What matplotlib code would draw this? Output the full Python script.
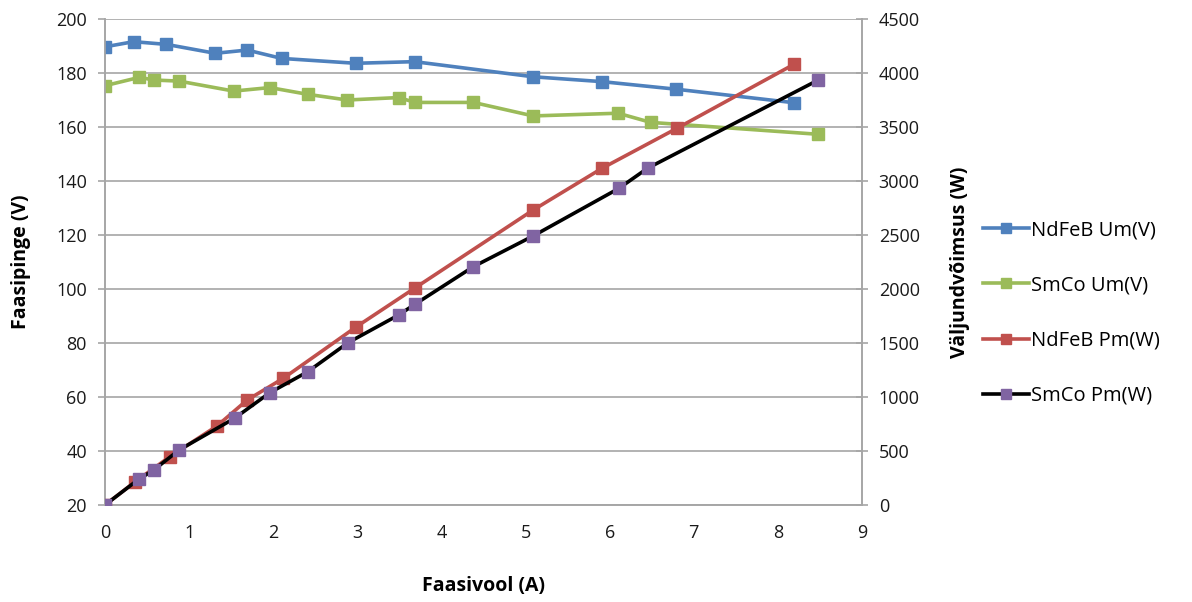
import matplotlib.pyplot as plt
from matplotlib.lines import Line2D

plt.rcParams['font.family'] = ['Open Sans', 'DejaVu Sans']

# phase current (A) and values
ndfeb_u_x = [0, 0.34, 0.73, 1.31, 1.69, 2.10, 2.98, 3.68, 5.09, 5.91, 6.79, 8.19]
ndfeb_u = [189.7, 191.6, 190.6, 187.3, 188.5, 185.4, 183.6, 184.2, 178.6, 176.8, 174.0, 169.0]

smco_u_x = [0, 0.41, 0.58, 0.88, 1.53, 1.96, 2.41, 2.88, 3.49, 3.69, 4.38, 5.09, 6.10, 6.49, 8.48]
smco_u = [175.3, 178.4, 177.4, 177.0, 173.3, 174.6, 172.1, 170.0, 170.9, 169.1, 169.1, 164.1, 165.1, 161.7, 157.3]

ndfeb_p_x = [0, 0.36, 0.77, 1.33, 1.69, 2.12, 2.99, 3.69, 5.09, 5.91, 6.80, 8.19]
ndfeb_p = [0, 216, 447, 731, 972, 1173, 1651, 2012, 2731, 3118, 3488, 4080]

smco_p_x = [0, 0.40, 0.58, 0.88, 1.54, 1.96, 2.41, 2.89, 3.49, 3.69, 4.38, 5.09, 6.11, 6.45, 8.48]
smco_p = [0, 238, 324, 509, 803, 1040, 1234, 1503, 1759, 1861, 2207, 2491, 2932, 3118, 3935]

blue = '#4F81BD'
green = '#9BBB59'
red = '#C0504D'
purple = '#8064A2'
grid_c = '#A6A6A6'

fig = plt.figure(figsize=(11.92, 6.02), dpi=100)
ax = fig.add_axes([105 / 1192, 97 / 602, 757 / 1192, 486 / 602])
ax2 = ax.twinx()

lw = 2.6
ms = 8.5
ax.plot(ndfeb_u_x, ndfeb_u, color=blue, lw=lw, marker='s', ms=ms, mec=blue, zorder=3)
ax.plot(smco_u_x, smco_u, color=green, lw=lw, marker='s', ms=ms, mec=green, zorder=3)
ax2.plot(ndfeb_p_x, ndfeb_p, color=red, lw=lw, marker='s', ms=ms, mec=red, zorder=3)
ax2.plot(smco_p_x, smco_p, color='black', lw=lw, marker='s', ms=ms, mfc=purple, mec=purple, zorder=4)

ax.set_xlim(0, 9)
ax.set_ylim(20, 200)
ax.set_yticks(range(20, 201, 20))
ax.set_xticks(range(0, 10))
ax2.set_ylim(0, 4500)
ax2.set_yticks(range(0, 4501, 500))

ax.grid(axis='y', color=grid_c, lw=1.2)
ax.set_axisbelow(True)
for a in (ax, ax2):
    for s in a.spines.values():
        s.set_color(grid_c)
        s.set_linewidth(1.2)
    a.tick_params(colors=grid_c, labelcolor='#1a1a1a', labelsize=13, width=1.2)
ax.spines['top'].set_visible(False)
ax2.spines['top'].set_visible(False)
ax.tick_params(axis='x', length=0, pad=14)
ax.tick_params(axis='y', length=5, pad=8)
ax2.tick_params(axis='y', length=8, pad=8, direction='inout')

ax.set_xlabel('Faasivool (A)', fontsize=14, fontweight='bold', labelpad=24)
ax.set_ylabel('Faasipinge (V)', fontsize=14, fontweight='bold', labelpad=18)
ax2.set_ylabel('Väljundvõimsus (W)', fontsize=14, fontweight='bold', labelpad=22)

handles = [
    Line2D([], [], color=blue, lw=lw, marker='s', ms=7, mec=blue),
    Line2D([], [], color=green, lw=lw, marker='s', ms=7, mec=green),
    Line2D([], [], color=red, lw=lw, marker='s', ms=7, mec=red),
    Line2D([], [], color='black', lw=lw, marker='s', ms=7, mfc=purple, mec=purple),
]
labels = ['NdFeB Um(V)', 'SmCo Um(V)', 'NdFeB Pm(W)', 'SmCo Pm(W)']
fig.legend(handles, labels, loc='center left', bbox_to_anchor=(975 / 1192, 1 - 313 / 602),
           frameon=False, fontsize=14.5, labelspacing=1.75, handlelength=2.3,
           handletextpad=0.1, borderaxespad=0)

fig.savefig('out.png', dpi=100)
